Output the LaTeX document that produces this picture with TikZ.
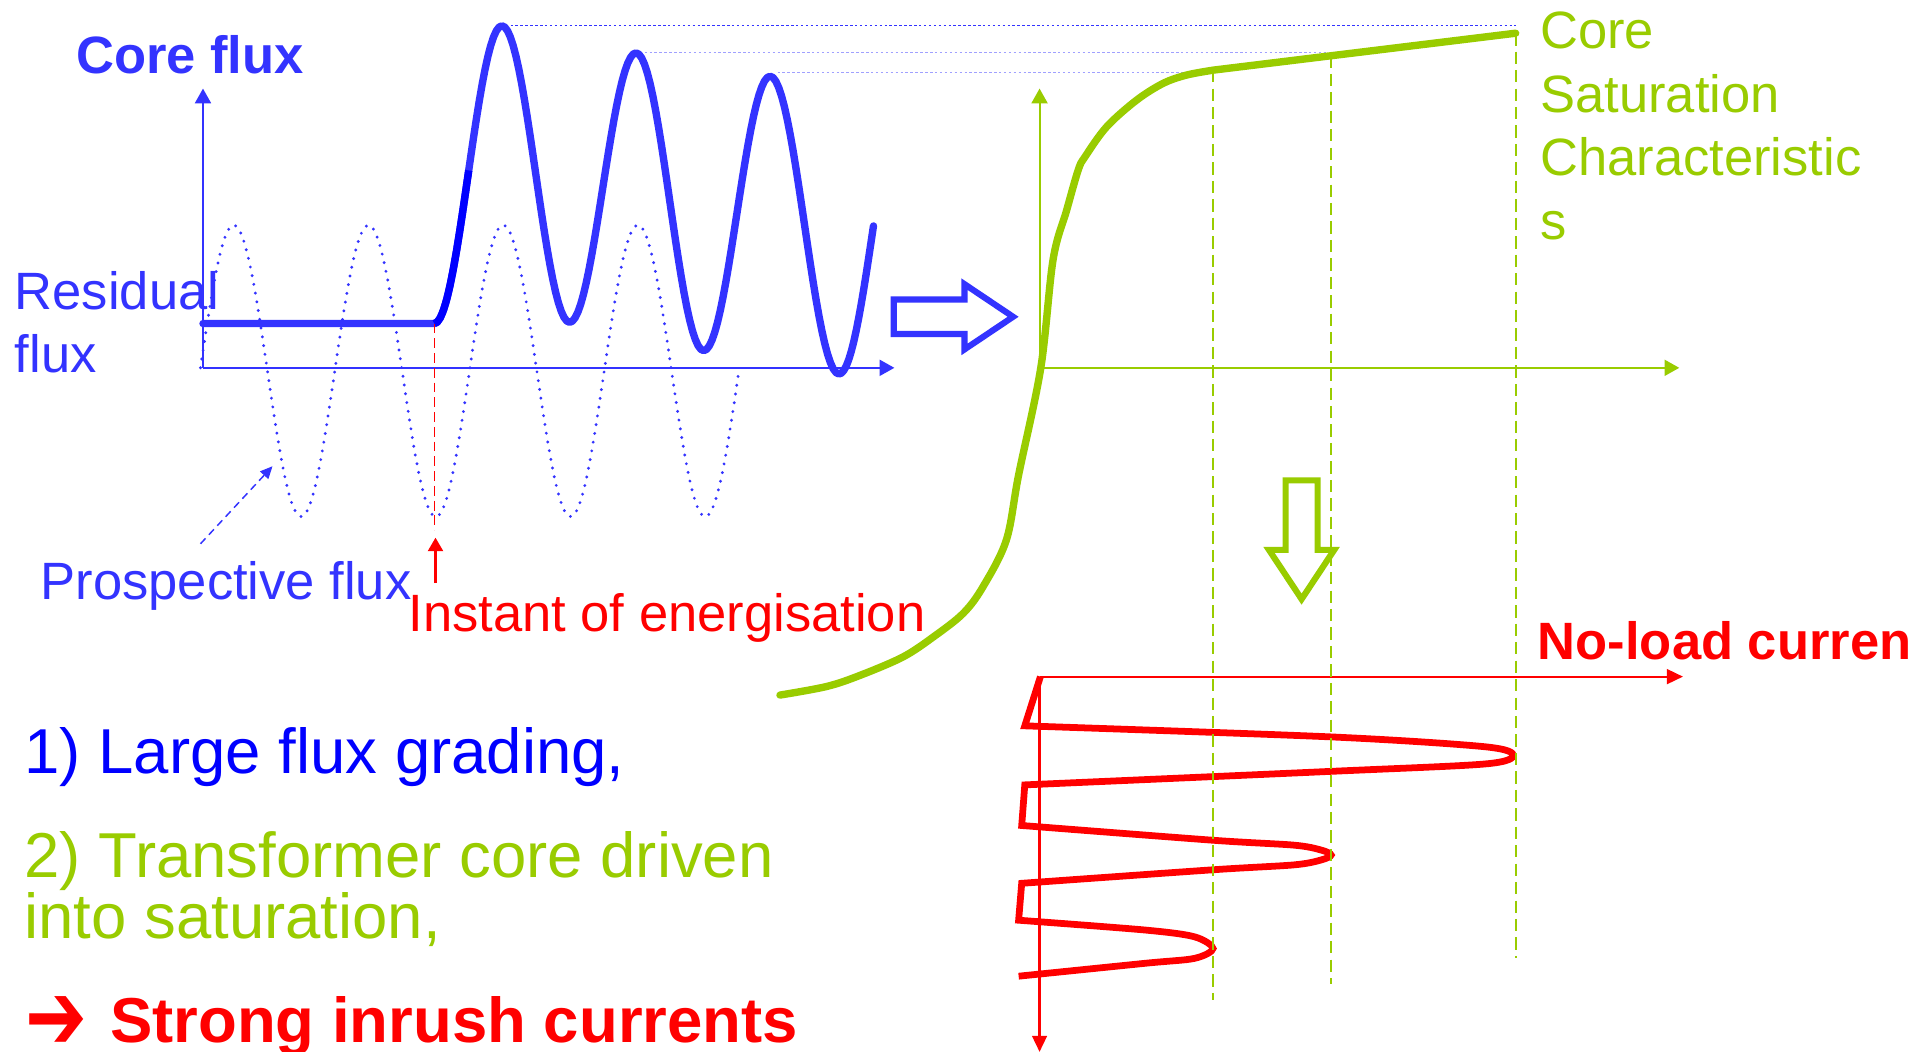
\documentclass[tikz,border=0pt]{standalone}
\usepackage{fontspec}
\setmainfont{Liberation Sans}
\newfontfamily\arrowglyphfont{DejaVu Sans}
\usetikzlibrary{arrows.meta}
\definecolor{fluxblue}{HTML}{3333FF}
\definecolor{deepblue}{HTML}{0000FF}
\definecolor{paleblue}{HTML}{A0A0FF}
\definecolor{satgreen}{HTML}{99CC00}
\definecolor{curred}{HTML}{FF0000}
\tikzset{
  lbl/.style={inner sep=0pt, outer sep=0pt, anchor=base west, font=\fontsize{21.35}{25}\selectfont},
  lblbold/.style={lbl, font=\fontsize{21.35}{25}\selectfont\bfseries},
  biglbl/.style={inner sep=0pt, outer sep=0pt, anchor=base west, font=\fontsize{25.8}{30}\selectfont},
  bigbold/.style={biglbl, font=\fontsize{25.8}{30}\selectfont\bfseries},
  axisarrow/.style={line width=0.8pt, -{Triangle[length=6pt,width=6.5pt]}},
  heavy/.style={line width=3pt, line join=round, line cap=round},
  hollowarrow/.style={line width=2.5pt, line join=miter, miter limit=10},
  guide/.style={satgreen, line width=0.7pt, dash pattern=on 5pt off 2.5pt},
  peakline/.style={line width=0.5pt, dash pattern=on 1pt off 1pt},
}
\begin{document}
\begin{tikzpicture}[x=0.5pt,y=-0.5pt]
\useasboundingbox (0,0) rectangle (1568,855);
\clip (0,0) rectangle (1568,855);
\fill[white] (0,0) rectangle (1568,855);

% ---------- left graph: core flux ----------
\coordinate (LO) at (165,299);
\coordinate (LY) at (165,72);
\coordinate (LX) at (727,299);
\draw[fluxblue, axisarrow] (LO) -- (LY);
\draw[fluxblue, axisarrow] (LO) -- (LX);

% prospective flux (dotted)
\draw[fluxblue, line width=1.3pt, line cap=round, dash pattern=on 0pt off 3.6pt]
  plot[domain=163:601, samples=220] (\x,{301.5-118.5*cos(3.28767*(\x-190))});

% peak level lines
\draw[fluxblue, peakline] (415,21) -- (1232,21);
\draw[paleblue, peakline] (520,42.5) -- (1080,42.5);
\draw[paleblue, peakline] (632,59) -- (962,59);

% actual flux (thick)
\draw[fluxblue, heavy] (165,263) -- (353,263)
  -- plot[domain=353:408, samples=25] (\x,{142+121*cos(3.27273*(\x-353))})
  -- plot[domain=408:463, samples=25] (\x,{141.5-120.5*cos(3.27273*(\x-408))})
  -- plot[domain=463:517, samples=25] (\x,{152.5+109.5*cos(3.33333*(\x-463))})
  -- plot[domain=517:572, samples=25] (\x,{164-121*cos(3.27273*(\x-517))})
  -- plot[domain=572:626, samples=25] (\x,{173.5+111.5*cos(3.33333*(\x-572))})
  -- plot[domain=626:682, samples=25] (\x,{183-121*cos(3.21429*(\x-626))})
  -- plot[domain=682:710, samples=15] (\x,{187+117*cos(3.27273*(\x-682))});
\draw[deepblue, line width=3pt]
  plot[domain=353:381, samples=12] (\x,{142+121*cos(3.27273*(\x-353))});

% instant of energisation
\coordinate (E0) at (353,263);
\coordinate (E1) at (353,431);
\draw[curred, line width=0.6pt, dash pattern=on 4pt off 2pt] (E0) -- (E1);
\coordinate (EA) at (354,474);
\coordinate (EB) at (354,437);
\draw[curred, line width=1.2pt, -{Triangle[length=5.5pt,width=6pt]}] (EA) -- (EB);

% prospective flux pointer
\coordinate (PA) at (163,442);
\coordinate (PB) at (221.5,379);
\draw[fluxblue, line width=0.6pt, dash pattern=on 3pt off 2pt, -{Triangle[length=5pt,width=4.5pt]}] (PA) -- (PB);

% hollow blue arrow
\draw[fluxblue, hollowarrow] (726.5,243.5) -- (784,243.5) -- (784,231) -- (823.5,257.5)
  -- (784,284) -- (784,271.5) -- (726.5,271.5) -- cycle;

% ---------- right graph: saturation characteristic ----------
\coordinate (GO) at (845,299);
\coordinate (GY) at (845,72);
\coordinate (GX) at (1365,299);
\draw[satgreen, axisarrow] (GO) -- (GY);
\draw[satgreen, axisarrow] (GO) -- (GX);

% ---------- bottom graph: no-load current ----------
\coordinate (RO) at (845,550);
\coordinate (RX) at (1368,550);
\coordinate (RY) at (845,855);
\draw[curred, line width=0.9pt, -{Triangle[length=6.5pt,width=6pt]}] (RO) -- (RX);
\draw[curred, line width=0.9pt, -{Triangle[length=6.5pt,width=6pt]}] (RO) -- (RY);

\draw[curred, line width=2.75pt, line join=miter] (845.7,550) -- (833,590)
  -- plot[smooth] coordinates {(833,590) (1082,599) (1207,607) (1230,614) (1207,621) (1082,627) (833,638)}
  -- (830.5,671)
  -- plot[smooth] coordinates {(830.5,671) (986,683) (1052,687) (1074,691) (1082,695) (1074,699) (1052,703) (986,707) (830.5,718)}
  -- (828,748)
  -- plot[smooth] coordinates {(828,748) (931,756) (971,761.5) (986,771) (971,779) (931,783) (828,793.5)};

% green guides
\draw[guide] (986,57) -- (986,813);
\draw[guide] (1082,45) -- (1082,800);
\draw[guide] (1232,27) -- (1232,779);

% saturation curve
\draw[satgreen, heavy] plot[smooth, tension=0.55] coordinates {(634,565) (672,558) (699,549) (734,534) (759,517.5) (783,498.5) (799,477) (818,439) (828,386) (846,299) (856,211) (867,171) (876.5,138) (882,127.4) (899.6,103) (924,81.3) (945.6,67.7) (964.6,61) (986.3,57)} -- (1232,27);

% hollow green arrow
\draw[satgreen, hollowarrow] (1045,390.5) -- (1071,390.5) -- (1071,447) -- (1084.5,447)
  -- (1058,487) -- (1031.5,447) -- (1045,447) -- cycle;

% ---------- texts ----------
\node[lblbold, fluxblue] (tCore) at (62,59.5) {Core flux};
\node[lbl, fluxblue] (tRes1) at (12,251.5) {Residual};
\node[lbl, fluxblue] (tRes2) at (12,302.5) {flux};
\node[lbl, fluxblue] (tPros) at (33,487) {Prospective flux};
\node[lbl, curred] (tInst) at (332,513) {Instant of energisation};
\node[lbl, satgreen] (tSat1) at (1252,39.5) {Core};
\node[lbl, satgreen] (tSat2) at (1252,91.5) {Saturation};
\node[lbl, satgreen] (tSat3) at (1252,143) {Characteristic};
\node[lbl, satgreen] (tSat4) at (1252,195) {s};
\node[lblbold, curred] (tNoLoad) at (1250,536) {No-load curren};
\node[biglbl, deepblue] (tL1) at (20,629) {1) Large flux grading,};
\node[biglbl, satgreen] (tL2a) at (20,713) {2) Transformer core driven};
\node[biglbl, satgreen] (tL2b) at (20,763) {into saturation,};
\node[inner sep=0pt, anchor=base west, curred, font=\arrowglyphfont\bfseries\fontsize{30}{34}\selectfont] (tArr) at (20,853) {\scalebox{1}[1.3]{➔}};
\node[bigbold, curred] (tL3) at (89.6,847) {Strong inrush currents};
\end{tikzpicture}
\end{document}
